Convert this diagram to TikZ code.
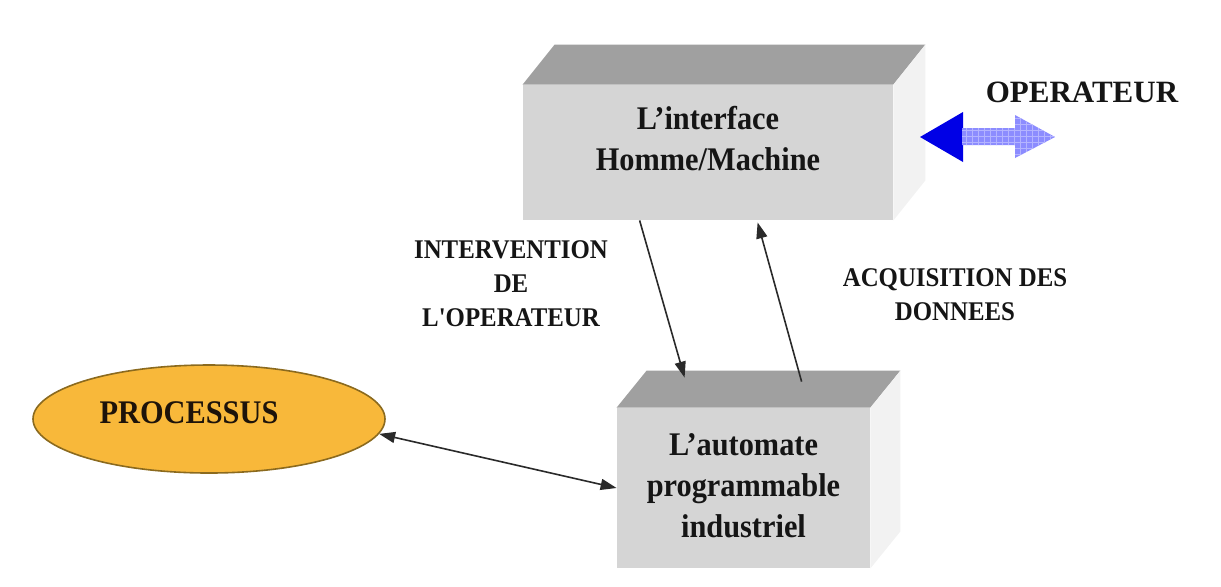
\documentclass[tikz,border=0pt]{standalone}
\usepackage{fontspec}
\setmainfont{Liberation Serif}
\newfontfamily\boxfont[FakeStretch=0.92,BoldFeatures={FakeStretch=0.92}]{Liberation Serif}
\usetikzlibrary{arrows.meta,shapes.geometric,calc,patterns}

\definecolor{facefront}{HTML}{D5D5D5}
\definecolor{facetop}{HTML}{A0A0A0}
\definecolor{faceside}{HTML}{F2F2F2}
\definecolor{procfill}{HTML}{F8B83A}
\definecolor{procline}{HTML}{8B6A1E}
\definecolor{inkblack}{HTML}{151515}
\definecolor{linkgray}{HTML}{2A2A2A}
\definecolor{opblue}{HTML}{0000E6}
\definecolor{oplight}{HTML}{8C8CFF}
\definecolor{opgrid}{HTML}{B4B4FF}

\tikzset{
  front/.style={rectangle, fill=facefront, draw=none, inner sep=0pt},
  boxtext/.style={font=\boxfont\bfseries\fontsize{16.5}{20.5}\selectfont,
                  text=inkblack, align=center, inner sep=0pt},
  labeltext/.style={font=\boxfont\bfseries\fontsize{13.5}{17}\selectfont,
                  text=inkblack, align=center, inner sep=0pt},
  link/.style={draw=linkgray, line width=0.8pt,
               -{Triangle[length=8pt,width=5.5pt]}},
  biglink/.style={draw=linkgray, line width=0.8pt,
               {Triangle[length=8pt,width=5.5pt]}-{Triangle[length=8pt,width=5.5pt]}},
}

\begin{document}
\begin{tikzpicture}[x=0.5pt,y=-0.5pt]
\useasboundingbox (0,0) rectangle (1221,586);

% ---- human/machine interface block ----
\node[front, minimum width=185pt, minimum height=67.5pt] (hmi) at (708,152.5) {};
\fill[facetop] (hmi.north west) -- ++(32,-40) -- ($(hmi.north east)+(32,-40)$) -- (hmi.north east) -- cycle;
\fill[faceside] (hmi.north east) -- ++(32,-40) -- ($(hmi.south east)+(32,-40)$) -- (hmi.south east) -- cycle;
% base anchor of a multi-line node sits on its last line
\node[boxtext, anchor=base] (hmitext) at (708,170) {L’interface\\Homme/Machine};

% ---- PLC block ----
\node[front, minimum width=126.5pt, minimum height=80pt] (plc) at (743.5,488) {};
\fill[facetop] (plc.north west) -- ++(30,-37) -- ($(plc.north east)+(30,-37)$) -- (plc.north east) -- cycle;
\fill[faceside] (plc.north east) -- ++(30,-37) -- ($(plc.south east)+(30,-37)$) -- (plc.south east) -- cycle;
\node[boxtext, anchor=base] (plctext) at (743.5,537) {L’automate\\programmable\\industriel};

% ---- process ----
\node[ellipse, fill=procfill, draw=procline, line width=0.8pt,
      minimum width=176pt, minimum height=54pt, inner sep=0pt] (proc) at (209,419) {};
\node[boxtext, anchor=base, text=black!85!brown] (proctext) at (189,423) {PROCESSUS};

% ---- operator ----
\node[font=\bfseries\fontsize{15.5}{18}\selectfont, text=inkblack, anchor=base, inner sep=0pt]
  (op) at (1082,102) {OPERATEUR};
% double arrow towards the operator
\fill[opblue] (920,137) -- (963,112) -- (963,162) -- cycle;
\path[preaction={fill=oplight}, pattern=grid, pattern color=opgrid]
  (962,128) -- (1015,128) -- (1015,115) -- (1055,137) -- (1015,158) -- (1015,145) -- (962,145) -- cycle;

% ---- labels ----
\node[labeltext, anchor=base] (lblint) at (511,326) {INTERVENTION\\DE\\L'OPERATEUR};
\node[labeltext, anchor=base] (lblacq) at (955,320) {ACQUISITION DES\\DONNEES};

% ---- connectors ----
\draw[link] ($(hmi.south west)+(117,0)$) -- ($(plc.north west)+(68,-30)$);
\draw[link] ($(plc.north west)+(185,-26)$) -- ($(hmi.south west)+(235,2)$);
\draw[biglink] (proc.-5) -- (plc.west);
\end{tikzpicture}
\end{document}
